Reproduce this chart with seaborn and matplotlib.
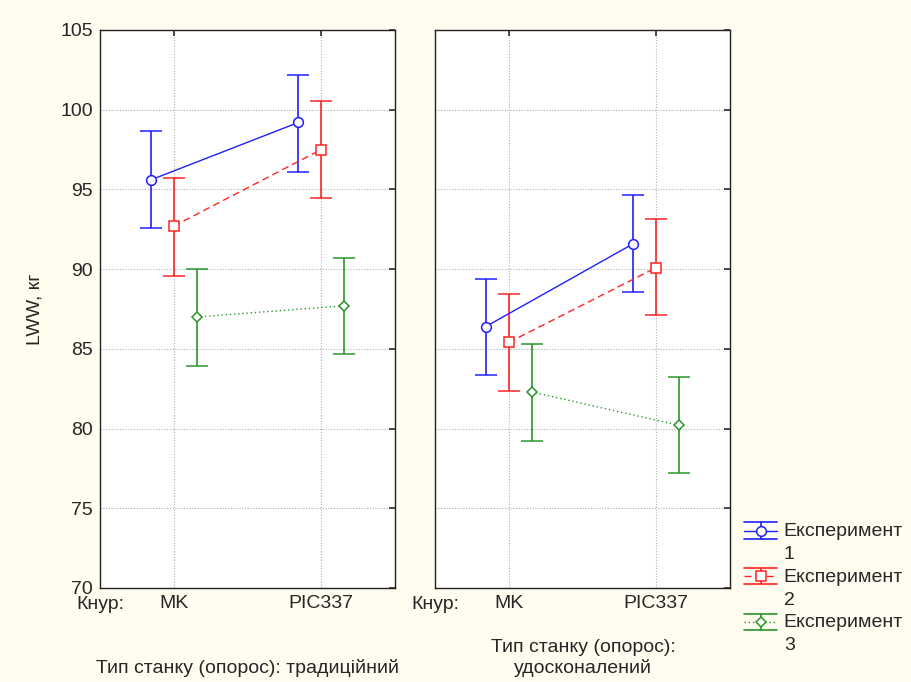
import matplotlib
matplotlib.use("Agg")
import matplotlib.pyplot as plt
import numpy as np
import pandas as pd
import seaborn as sns
from matplotlib.legend_handler import HandlerBase
from matplotlib.lines import Line2D

# boar breeds (x categories), experiments and crate types (panels)
boars = ["MK", "PIC337"]
experiments = ["Експеримент\n1", "Експеримент\n2", "Експеримент\n3"]
crates = ["Тип станку (опорос): традиційний", "Тип станку (опорос):\nудосконалений"]

# means per crate -> experiment -> boar
trad_mean = [[95.6, 99.2], [92.7, 97.5], [87.0, 87.7]]
trad_low = [[92.55, 96.1], [89.6, 94.45], [83.95, 84.65]]
trad_high = [[98.65, 102.2], [95.7, 100.55], [90.0, 90.7]]

impr_mean = [[86.4, 91.6], [85.4, 90.1], [82.3, 80.2]]
impr_low = [[83.35, 88.55], [82.35, 87.1], [79.25, 77.2]]
impr_high = [[89.4, 94.65], [88.45, 93.15], [85.3, 83.25]]

COLORS = ["#1f1fff", "#ff2424", "#2a962a"]
MARKERS = ["o", "s", "D"]
MSIZES = [7, 7, 5]
LSTYLES = ["-", (0, (5, 3)), (0, (1, 2))]
OFFSETS = [-0.155, 0.0, 0.155]
BG = "#fffcf0"
FS = 14
LEG_LS = 1.45


class ErrHandle:
    def __init__(self, color, marker, ms, ls):
        self.color, self.marker, self.ms, self.ls = color, marker, ms, ls


class ErrHandler(HandlerBase):
    # statistica-style legend key: wide caps above/below, marker on the line,
    # lifted so it sits next to the first text line
    def create_artists(self, legend, h, xdescent, ydescent, width, height, fontsize, trans):
        cy = height / 2 - ydescent + 0.62 * fontsize
        x0, x1 = -xdescent, -xdescent + width
        dy = 0.42 * fontsize
        arts = [
            Line2D([x0, x1], [cy, cy], color=h.color, lw=1.0, linestyle=h.ls),
            Line2D([x0, x1], [cy + dy, cy + dy], color=h.color, lw=1.2),
            Line2D([x0, x1], [cy - dy, cy - dy], color=h.color, lw=1.2),
            Line2D([(x0 + x1) / 2] * 2, [cy - dy, cy + dy], color=h.color, lw=1.2),
            Line2D([(x0 + x1) / 2], [cy], marker=h.marker, ms=h.ms, mfc="white",
                   mec=h.color, mew=1.1, linestyle="none"),
        ]
        for a in arts:
            a.set_transform(trans)
        return arts


rows = []
for crate, means, lows, highs in [(crates[0], trad_mean, trad_low, trad_high),
                                  (crates[1], impr_mean, impr_low, impr_high)]:
    for e, exp in enumerate(experiments):
        for b, boar in enumerate(boars):
            rows.append(dict(crate=crate, exp=exp, e=e, boar=boar, b=b,
                             mean=means[e][b], low=lows[e][b], high=highs[e][b]))
df = pd.DataFrame(rows)

sns.set_theme(style="white")
plt.rcParams["font.family"] = ["Liberation Sans", "DejaVu Sans"]
plt.rcParams["font.size"] = FS

fig = plt.figure(figsize=(9.12, 6.82), dpi=100, facecolor=BG)
axes = [fig.add_axes([100 / 912, 1 - 588 / 682, 295 / 912, 558 / 682]),
        fig.add_axes([435 / 912, 1 - 588 / 682, 295 / 912, 558 / 682])]

for i, (ax, crate) in enumerate(zip(axes, crates)):
    sub = df[df["crate"] == crate]
    for e, exp in enumerate(experiments):
        d = sub[sub["e"] == e].sort_values("b")
        x = d["b"].to_numpy() + OFFSETS[e]
        yerr = [d["mean"] - d["low"], d["high"] - d["mean"]]
        ax.errorbar(x, d["mean"], yerr=yerr, fmt=MARKERS[e], color=COLORS[e],
                    mfc="white", mec=COLORS[e], ms=MSIZES[e], mew=1.1,
                    ecolor=COLORS[e], elinewidth=1.2, capsize=8, capthick=1.2,
                    linestyle=LSTYLES[e], lw=1.0, zorder=3)
    ax.set_xlim(-0.5, 1.5)
    ax.set_ylim(70, 105)
    ax.set_yticks(np.arange(70, 106, 5))
    ax.set_xticks([0, 1])
    ax.set_xticklabels(boars, fontsize=FS)
    ax.set_facecolor("white")
    ax.grid(True, color="#b0b0b0", linestyle=(0, (1, 1.5)), linewidth=0.8)
    ax.tick_params(axis="both", direction="in", length=4, color="#333333",
                   right=True, top=True, pad=5)
    for s in ax.spines.values():
        s.set_color("#222222")
        s.set_linewidth(1.0)
    if i == 0:
        ax.tick_params(axis="y", labelsize=FS, pad=5)
    else:
        ax.tick_params(axis="y", labelleft=False)
    ax.text(0, -0.015, "Кнур:", transform=ax.transAxes, ha="center", va="top", fontsize=FS)
    ax.set_xlabel("")
    ax.set_ylabel("")

axes[0].set_ylabel("LWW, кг", fontsize=FS, labelpad=12)
fig.text(248 / 912, 1 - 668 / 682, crates[0], ha="center", va="center", fontsize=FS)
fig.text(583 / 912, 1 - 658 / 682, crates[1], ha="center", va="center", fontsize=FS,
         linespacing=1.15)

keys = [ErrHandle(COLORS[e], MARKERS[e], MSIZES[e], LSTYLES[e]) for e in range(3)]
leg = fig.legend(keys, experiments, loc="upper left",
                 handler_map={ErrHandle: ErrHandler()},
                 bbox_to_anchor=(744 / 912, 1 - 523 / 682), frameon=False,
                 labelspacing=0.3, handlelength=1.7, handletextpad=0.35,
                 borderaxespad=0, borderpad=0, prop={"size": FS})
for t in leg.get_texts():
    t.set_linespacing(LEG_LS)

fig.savefig("out.png", dpi=100, facecolor=BG)
